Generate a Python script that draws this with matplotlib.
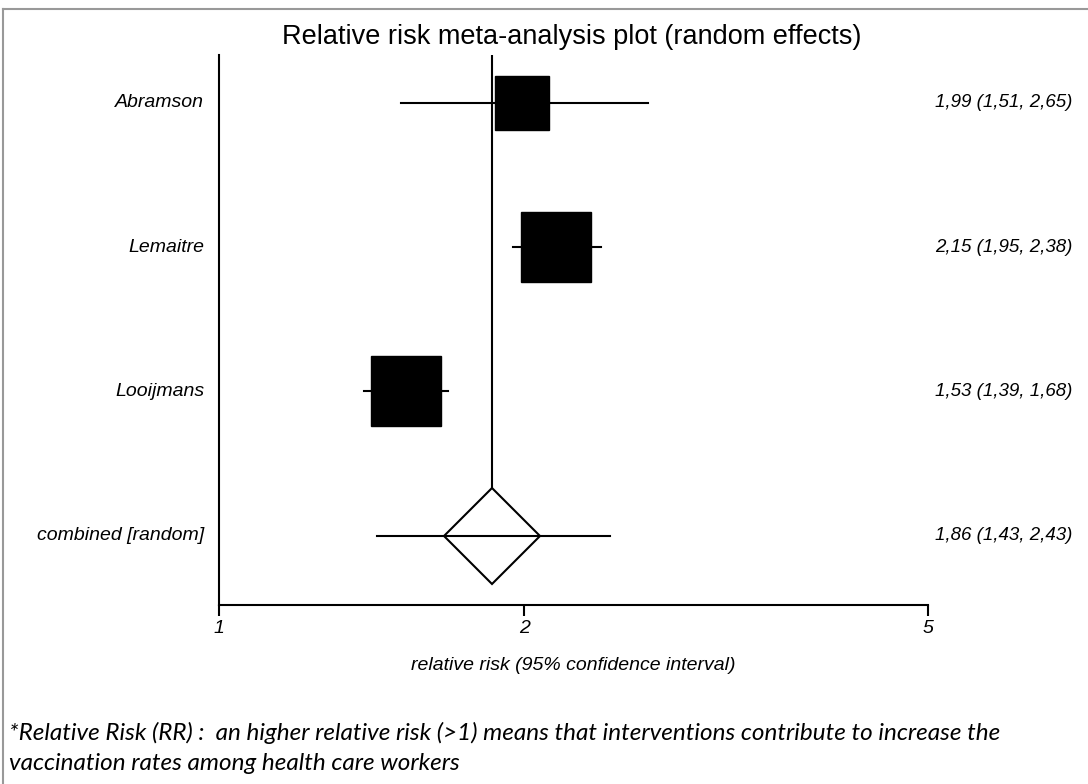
import matplotlib
matplotlib.use("Agg")
import matplotlib.pyplot as plt
from matplotlib.lines import Line2D

# study data
studies = ["Abramson", "Lemaitre", "Looijmans", "combined [random]"]
rr = [1.99, 2.15, 1.53, 1.86]
lower = [1.51, 1.95, 1.39, 1.43]
upper = [2.65, 2.38, 1.68, 2.43]
box_sizes = [39, 50, 50]  # marker size (pt), relative to study weight
rr_text = ["1,99 (1,51, 2,65)", "2,15 (1,95, 2,38)",
           "1,53 (1,39, 1,68)", "1,86 (1,43, 2,43)"]
xticks = [1, 2, 5]

plt.rcParams['font.family'] = ['Liberation Sans', 'DejaVu Sans']

fig = plt.figure(figsize=(10.88, 7.84), dpi=100)
ax = fig.add_axes([0.2013, 0.2283, 0.6517, 0.7015])

ypos = [4, 3, 2, 1]
ax.set_xscale("log")
ax.set_xlim(1, 5)
ax.set_ylim(0.52, 4.33)

# pooled estimate line
ax.plot([rr[3], rr[3]], [ypos[3] + 0.335, 4.33], color="black", lw=1.5, zorder=1)

for i in range(4):
    ax.plot([lower[i], upper[i]], [ypos[i], ypos[i]], color="black", lw=1.5, zorder=2)
    if i < 3:
        ax.plot(rr[i], ypos[i], marker="s", ms=box_sizes[i], color="black",
                mec="black", zorder=3)
    else:
        ax.plot(rr[i], ypos[i], marker="D", ms=48.5, mfc="none",
                mec="black", mew=1.5, zorder=3)
    ax.text(-0.021, ypos[i], studies[i], transform=ax.get_yaxis_transform(),
            ha="right", va="center", style="italic", fontsize=14)
    fig.text(0.986, ax.transData.transform((1, ypos[i]))[1] / 784,
             rr_text[i], ha="right", va="center", style="italic", fontsize=13.5)

# axes formatting
ax.spines["top"].set_visible(False)
ax.spines["right"].set_visible(False)
ax.spines["left"].set_linewidth(1.5)
ax.spines["bottom"].set_linewidth(1.5)
ax.set_yticks([])
ax.set_xticks(xticks)
ax.set_xticklabels([str(t) for t in xticks], style="italic", fontsize=14)
ax.minorticks_off()
ax.tick_params(axis="x", direction="out", length=8, width=1.5, pad=3)
ax.set_xlabel("relative risk (95% confidence interval)", style="italic",
              fontsize=14, labelpad=14)

fig.text(0.525, 0.953, "Relative risk meta-analysis plot (random effects)",
         ha="center", va="center", fontsize=19.5)

fig.text(0.008, 1 - 733 / 784,
         "*Relative Risk (RR) :  an higher relative risk (>1) means that interventions contribute to increase the",
         ha="left", va="center", style="italic", fontsize=17.5, family="Lato")
fig.text(0.008, 1 - 763 / 784,
         "vaccination rates among health care workers",
         ha="left", va="center", style="italic", fontsize=17.5, family="Lato")

# thin grey frame along top and left edges
fig.add_artist(Line2D([3 / 1088, 1], [1 - 9 / 784, 1 - 9 / 784], color="#999999", lw=1.5))
fig.add_artist(Line2D([3 / 1088, 3 / 1088], [0, 1 - 9 / 784], color="#999999", lw=1.5))

fig.savefig("out.png", dpi=100)
